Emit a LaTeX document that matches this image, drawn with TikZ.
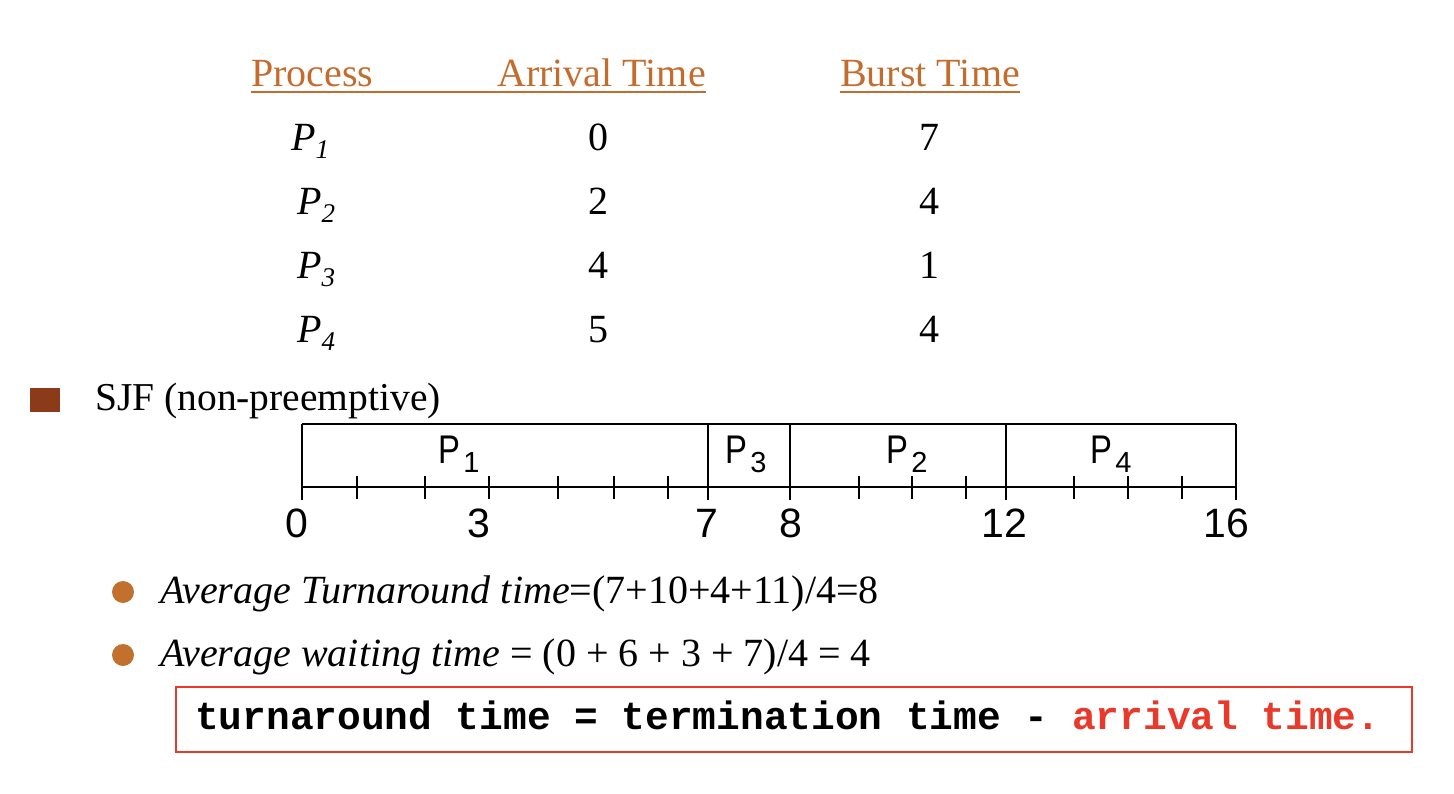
\documentclass[tikz,border=0pt]{standalone}
\usepackage{fontspec}
\setmainfont{Liberation Serif}
\newfontfamily\ganttfont{Liberation Sans}
\newfontfamily\formulafont{Liberation Mono}

\definecolor{headorange}{RGB}{196,108,46}
\definecolor{sqbrown}{RGB}{139,58,26}
\definecolor{dotorange}{RGB}{193,112,45}
\definecolor{boxred}{RGB}{232,57,42}

\newcommand{\proc}[1]{\textit{P}\raisebox{-8pt}{\fontsize{27}{27}\selectfont\itshape #1}}
\newcommand{\gproc}[1]{\scalebox{0.82}[1]{P}\kern3pt\raisebox{-9pt}{\fontsize{29}{29}\selectfont #1}}

\tikzstyle{head}=[anchor=base west, inner sep=0pt, text=headorange, font=\fontsize{40}{48}\selectfont]
\tikzstyle{pcell}=[anchor=base west, inner sep=0pt, font=\fontsize{40}{48}\selectfont]
\tikzstyle{cell}=[anchor=base, inner sep=0pt, font=\fontsize{40}{48}\selectfont]
\tikzstyle{uline}=[draw=headorange, line width=1.6pt]
\tikzstyle{glabel}=[anchor=base, inner sep=0pt, font=\ganttfont\fontsize{40}{48}\selectfont]
\tikzstyle{gnum}=[anchor=base, inner sep=0pt, font=\ganttfont\fontsize{41}{49}\selectfont]
\tikzstyle{gline}=[line width=1.6pt]
\tikzstyle{gtick}=[line width=1.3pt]
\tikzstyle{sqbullet}=[rectangle, fill=sqbrown, minimum width=30pt, minimum height=24pt, inner sep=0pt]
\tikzstyle{bulletdot}=[circle, fill=dotorange, minimum size=22pt, inner sep=0pt]
\tikzstyle{formula}=[anchor=base west, inner sep=0pt, font=\formulafont\bfseries\fontsize{39.5}{47}\selectfont]

\begin{document}
\begin{tikzpicture}[x=1pt,y=-1pt]
\useasboundingbox (0,0) rectangle (1454,794);

\node[head] (hproc) at (251,87) {Process};
\node[head] (harr) at (497,87) {Arrival Time};
\node[head] (hburst) at (840,87) {Burst Time};
\draw[uline] ([yshift=-5pt]hproc.base west) -- ([yshift=-5pt]harr.base east);
\draw[uline] ([yshift=-5pt]hburst.base west) -- ([yshift=-5pt]hburst.base east);

\node[pcell] (p1) at (291,151) {\proc{1}};
\node[cell] (a1) at (598,151) {0};
\node[cell] (b1) at (929,151) {7};
\node[pcell] (p2) at (297,215) {\proc{2}};
\node[cell] (a2) at (598,215) {2};
\node[cell] (b2) at (929,215) {4};
\node[pcell] (p3) at (297,279) {\proc{3}};
\node[cell] (a3) at (598,279) {4};
\node[cell] (b3) at (929,279) {1};
\node[pcell] (p4) at (297,343) {\proc{4}};
\node[cell] (a4) at (598,343) {5};
\node[cell] (b4) at (929,343) {4};

\node[sqbullet] (sq) at (45,400) {};
\node[pcell, font=\fontsize{39.5}{47}\selectfont] (sjf) at (95,410) {SJF (non-preemptive)};

\draw[gline] (302,424) -- (1236,424);
\draw[gline] (302,487) -- (1236,487);
\foreach \x in {302,708,790,1006,1236}
  \draw[gline] (\x,424) -- (\x,500);
\foreach \x in {357,425,489,558,614,668,859,912,966,1074,1128,1182}
  \draw[gtick] (\x,476) -- (\x,499);

\node[glabel] (g1) at (459,463) {\gproc{1}};
\node[glabel] (g3) at (746,463) {\gproc{3}};
\node[glabel] (g2) at (907,463) {\gproc{2}};
\node[glabel] (g4) at (1111,463) {\gproc{4}};

\node[gnum] (t0) at (297,537) {0};
\node[gnum] (t3) at (479,537) {3};
\node[gnum] (t7) at (707,537) {7};
\node[gnum] (t8) at (791,537) {8};
\node[gnum] (t12) at (1004,537) {12};
\node[gnum] (t16) at (1226,537) {16};

\node[bulletdot] (d1) at (123,592) {};
\node[pcell] (avgt) at (160,603) {\textit{Average Turnaround time}=(7+10+4+11)/4=8};
\node[bulletdot] (d2) at (123,655) {};
\node[pcell] (avgw) at (160,666) {\textit{Average waiting time} = (0 + 6 + 3 + 7)/4 = 4};

\draw[boxred, line width=1.5pt] (176,687) rectangle (1412,752);
\node[formula] (tat) at (195,729) {turnaround time = termination time - \textcolor{boxred}{arrival time.}};
\end{tikzpicture}
\end{document}
